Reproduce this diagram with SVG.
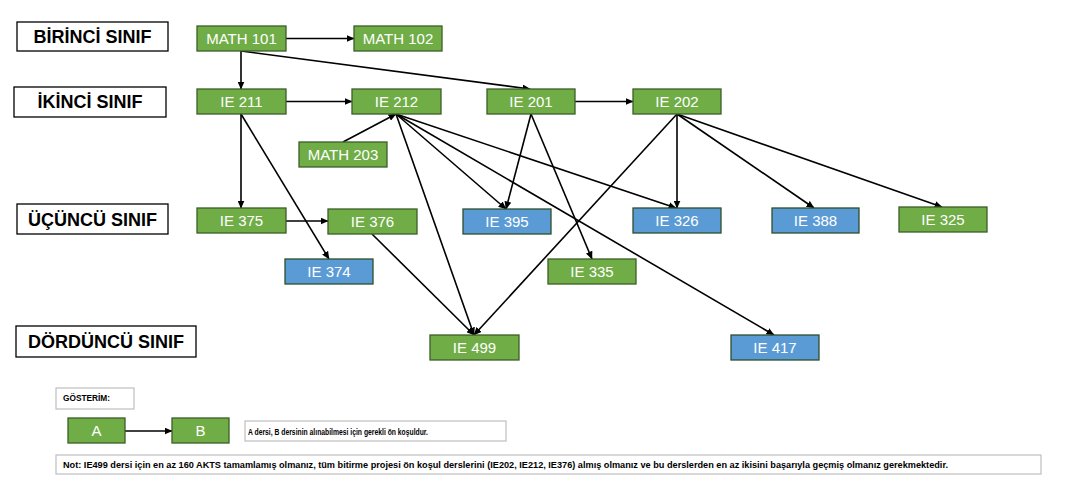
<svg xmlns="http://www.w3.org/2000/svg" width="1072" height="502" viewBox="0 0 1072 502">
<style>
.hdr rect{fill:#fff;stroke:#000;stroke-width:1.3}
.hdr text{font-family:"Liberation Sans",Arial,sans-serif;font-weight:bold;font-size:18px;fill:#000;text-anchor:middle}
.g rect{fill:#70AD47;stroke:#3B5E27;stroke-width:1.3}
.b rect{fill:#5B9BD5;stroke:#2F4F2A;stroke-width:1.3}
.g text,.b text{font-family:"Liberation Sans",Arial,sans-serif;font-size:15px;fill:#fff;text-anchor:middle}
.edges line{stroke:#000;stroke-width:1.6;marker-end:url(#ah)}
.box rect{fill:#fff;stroke:#BFBFBF;stroke-width:1.2}
.box text{font-family:"Liberation Sans",Arial,sans-serif;font-weight:bold;fill:#000}
</style>
<defs>
<marker id="ah" markerUnits="userSpaceOnUse" markerWidth="8" markerHeight="7" refX="7.5" refY="3.5" orient="auto">
<path d="M0,0 L8,3.5 L0,7 z" fill="#000"/>
</marker>
</defs>
<rect width="1072" height="502" fill="#fff"/>

<g id="hdr1" class="hdr"><rect x="17" y="22" width="151" height="29"/><text x="92.5" y="42.5">BİRİNCİ SINIF</text></g>
<g id="hdr2" class="hdr"><rect x="14" y="87" width="152" height="30"/><text x="90" y="108">İKİNCİ SINIF</text></g>
<g id="hdr3" class="hdr"><rect x="17" y="204" width="151" height="30"/><text x="92.5" y="225.5">ÜÇÜNCÜ SINIF</text></g>
<g id="hdr4" class="hdr"><rect x="16" y="326" width="180" height="31"/><text x="106" y="348">DÖRDÜNCÜ SINIF</text></g>

<g id="edges" class="edges">
<line x1="286" y1="38.5" x2="354" y2="38.5"/>
<line x1="241" y1="51" x2="241" y2="89"/>
<line x1="241" y1="51" x2="530" y2="89"/>
<line x1="286" y1="101.5" x2="352" y2="101.5"/>
<line x1="575" y1="101.5" x2="633" y2="101.5"/>
<line x1="241" y1="114" x2="241" y2="208"/>
<line x1="241" y1="114" x2="329" y2="259"/>
<line x1="286" y1="221" x2="328" y2="221"/>
<line x1="343" y1="142" x2="396" y2="114"/>
<line x1="396" y1="114" x2="506" y2="209"/>
<line x1="396" y1="114" x2="474" y2="335"/>
<line x1="396" y1="114" x2="676" y2="208"/>
<line x1="396" y1="114" x2="774" y2="335"/>
<line x1="531" y1="114" x2="506" y2="209"/>
<line x1="531" y1="114" x2="592" y2="259"/>
<line x1="677" y1="114" x2="677" y2="208"/>
<line x1="677" y1="114" x2="474" y2="335"/>
<line x1="677" y1="114" x2="814" y2="208"/>
<line x1="677" y1="114" x2="942" y2="207"/>
<line x1="372" y1="234" x2="474" y2="335"/>
<line x1="125" y1="431" x2="172" y2="431"/>
</g>

<g id="math101" class="g"><rect x="197" y="26" width="89" height="25"/><text x="241.5" y="44">MATH 101</text></g>
<g id="math102" class="g"><rect x="354" y="26" width="88" height="25"/><text x="398" y="44">MATH 102</text></g>
<g id="ie211" class="g"><rect x="197" y="89" width="89" height="25"/><text x="241.5" y="107">IE 211</text></g>
<g id="ie212" class="g"><rect x="352" y="89" width="89" height="25"/><text x="396.5" y="107">IE 212</text></g>
<g id="ie201" class="g"><rect x="487" y="89" width="88" height="25"/><text x="531" y="107">IE 201</text></g>
<g id="ie202" class="g"><rect x="633" y="89" width="88" height="25"/><text x="677" y="107">IE 202</text></g>
<g id="math203" class="g"><rect x="299" y="142" width="88" height="25"/><text x="343" y="160">MATH 203</text></g>
<g id="ie375" class="g"><rect x="197" y="208" width="89" height="25"/><text x="241.5" y="226">IE 375</text></g>
<g id="ie376" class="g"><rect x="328" y="209" width="89" height="25"/><text x="372.5" y="227">IE 376</text></g>
<g id="ie374" class="b"><rect x="285" y="259" width="88" height="25"/><text x="329" y="277">IE 374</text></g>
<g id="ie395" class="b"><rect x="463" y="209" width="88" height="25"/><text x="507" y="227">IE 395</text></g>
<g id="ie326" class="b"><rect x="633" y="208" width="88" height="25"/><text x="677" y="226">IE 326</text></g>
<g id="ie388" class="b"><rect x="772" y="208" width="87" height="25"/><text x="815.5" y="226">IE 388</text></g>
<g id="ie325" class="g"><rect x="899" y="207" width="88" height="25"/><text x="943" y="225">IE 325</text></g>
<g id="ie335" class="g"><rect x="548" y="259" width="88" height="25"/><text x="592" y="277">IE 335</text></g>
<g id="ie499" class="g"><rect x="430" y="335" width="89" height="25"/><text x="474.5" y="353">IE 499</text></g>
<g id="ie417" class="b"><rect x="731" y="335" width="88" height="25"/><text x="775" y="353">IE 417</text></g>

<g id="legend-title" class="box"><rect x="56" y="388" width="78" height="21"/><text x="63" y="401" font-size="8.5" textLength="47" lengthAdjust="spacingAndGlyphs">GÖSTERİM:</text></g>
<g id="legend-a" class="g"><rect x="68" y="418" width="57" height="25"/><text x="96.5" y="436">A</text></g>
<g id="legend-b" class="g"><rect x="172" y="418" width="57" height="25"/><text x="200.5" y="436">B</text></g>
<g id="legend-text" class="box"><rect x="245" y="421" width="261" height="20"/><text x="248" y="434.5" font-size="8.5" textLength="180" lengthAdjust="spacingAndGlyphs">A dersi, B dersinin alınabilmesi için gerekli ön koşuldur.</text></g>
<g id="note" class="box"><rect x="56" y="455" width="985" height="19"/><text x="63" y="467.5" font-size="8.5" textLength="885" lengthAdjust="spacingAndGlyphs">Not: IE499 dersi için en az 160 AKTS tamamlamış olmanız, tüm bitirme projesi ön koşul derslerini (IE202, IE212, IE376) almış olmanız ve bu derslerden en az ikisini başarıyla geçmiş olmanız gerekmektedir.</text></g>
</svg>
